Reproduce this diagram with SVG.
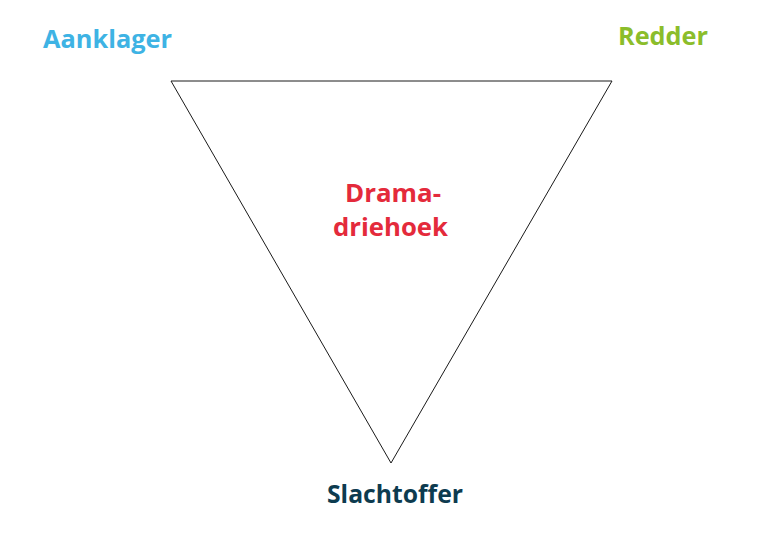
<svg xmlns="http://www.w3.org/2000/svg" width="782" height="539" viewBox="0 0 782 539">
<style>
.t{font-family:"Open Sans","Liberation Sans",sans-serif;font-weight:bold;font-size:25px;}
</style>
<rect width="782" height="539" fill="#ffffff"/>
<g id="connectors">
<polygon points="171,81 612,81 391,463" fill="none" stroke="#1a1a1a" stroke-width="1"/>
</g>
<g id="aanklager"><text class="t" x="43" y="48" fill="#3eb3e4" textLength="129" lengthAdjust="spacingAndGlyphs">Aanklager</text></g>
<g id="redder"><text class="t" x="618" y="45" fill="#8bbd2b" textLength="90" lengthAdjust="spacingAndGlyphs">Redder</text></g>
<g id="dramadriehoek">
<text class="t" x="345" y="202" fill="#e42a3b" textLength="96" lengthAdjust="spacingAndGlyphs">Drama-</text>
<text class="t" x="333" y="236" fill="#e42a3b" textLength="115" lengthAdjust="spacingAndGlyphs">driehoek</text>
</g>
<g id="slachtoffer"><text class="t" x="327" y="503" fill="#0d3b4f" textLength="136" lengthAdjust="spacingAndGlyphs">Slachtoffer</text></g>
</svg>
